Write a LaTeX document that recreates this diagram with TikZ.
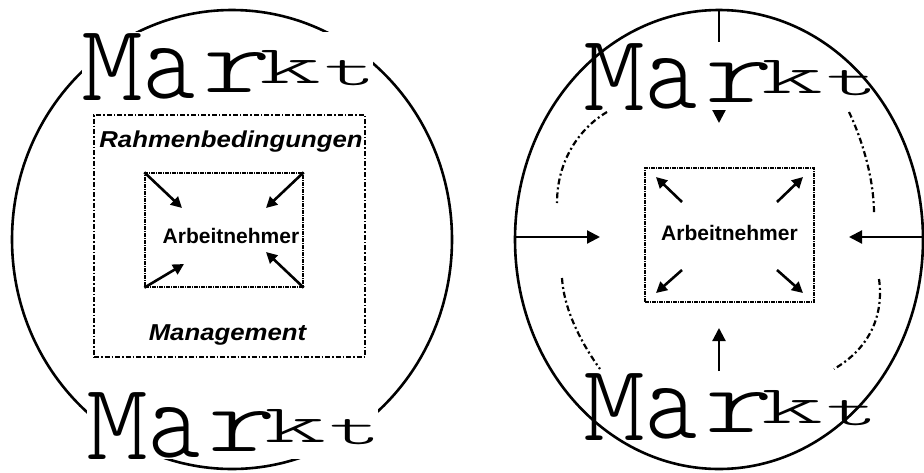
\documentclass[tikz,border=0pt]{standalone}
\usepackage{fontspec}
\setmainfont{Liberation Sans}
\newfontfamily\mkfont{lmmonolt10-regular.otf}
\usepackage{graphicx}
\usetikzlibrary{arrows.meta,shapes.geometric}
\tikzset{
  ell/.style={draw, ellipse, line width=2.6pt, inner sep=0pt},
  outerbox/.style={draw, line width=1.5pt, dash pattern=on 5pt off 2pt on 1.5pt off 2pt, inner sep=0pt},
  innerbox/.style={draw, line width=1.3pt, dash pattern=on 4pt off 1pt on 1pt off 1pt, inner sep=0pt},
  arr/.style={line width=2.6pt, -{Triangle[length=11pt,width=11pt]}},
  bigarr/.style={line width=2.2pt, -{Triangle[length=13pt,width=13pt]}},
  dasharc/.style={line width=2.2pt, dash pattern=on 6pt off 3pt on 2pt off 3pt},
  lbl/.style={font=\bfseries\itshape\fontsize{23}{23}\selectfont, inner sep=0pt, anchor=base},
  anlbl/.style={font=\bfseries\fontsize{21}{21}\selectfont, inner sep=0pt, anchor=base},
  letter/.style={inner sep=0pt, anchor=north west},
  wbg/.style={fill=white, inner sep=0pt, anchor=north west, minimum width=291pt, minimum height=68pt}
}
\newcommand\marktword[3]{%
  \begin{scope}[shift={(#1,#2)}]
    \node[wbg] (#3bg) at (-1,-1) {};
    \node[letter] (#3M) at (-1.5,0) {\resizebox{62pt}{67pt}{\mkfont M}};
    \node[letter] (#3a) at (60.5,15) {\resizebox{52pt}{50pt}{\mkfont a}};
    \node[letter] (#3r) at (120,19) {\resizebox{68pt}{40pt}{\mkfont r}};
    \node[letter] (#3k) at (176,17) {\resizebox{62pt}{33pt}{\mkfont k}};
    \node[letter] (#3t) at (241,27) {\resizebox{52pt}{25pt}{\mkfont t}};
  \end{scope}}
\begin{document}
\begin{tikzpicture}[x=1pt,y=-1pt]
\useasboundingbox (0,0) rectangle (924,472);
% ---------------- left diagram ----------------
\node[ell, minimum width=440pt, minimum height=459pt] (ellL) at (232,239.5) {};
\marktword{83}{33}{tl}
\marktword{88}{392}{bl}
\node[outerbox, minimum width=271pt, minimum height=242pt] (obL) at (229.5,236) {};
\node[lbl] (rb) at (231,147) {\scalebox{1.12}[1]{Rahmenbedingungen}};
\node[lbl] (mg) at (227.5,340) {\scalebox{1.12}[1]{Management}};
\node[innerbox, minimum width=158pt, minimum height=114pt] (ibL) at (224,230) {};
\node[anlbl] (anL) at (231,243) {Arbeitnehmer};
\coordinate (lA) at (182,208);
\coordinate (lB) at (266,208);
\coordinate (lC) at (184,264);
\coordinate (lD) at (266,252);
\draw[arr] (ibL.north west) -- (lA);
\draw[arr] (ibL.north east) -- (lB);
\draw[arr] (ibL.south west) -- (lC);
\draw[arr] (ibL.south east) -- (lD);
% ---------------- right diagram ----------------
\node[innerbox, minimum width=169pt, minimum height=134pt] (ibR) at (729.5,235) {};
\node[anlbl] (anR) at (729.5,240) {Arbeitnehmer};
\coordinate (r1s) at (682,202); \coordinate (r1e) at (656,177);
\coordinate (r2s) at (777,202); \coordinate (r2e) at (803,177);
\coordinate (r3s) at (682,270); \coordinate (r3e) at (656,293);
\coordinate (r4s) at (777,270); \coordinate (r4e) at (803,293);
\draw[arr] (r1s) -- (r1e);
\draw[arr] (r2s) -- (r2e);
\draw[arr] (r3s) -- (r3e);
\draw[arr] (r4s) -- (r4e);
\coordinate (tS) at (719,10);   \coordinate (tE) at (719,123);
\coordinate (lS) at (515,237);  \coordinate (lE) at (600,237);
\coordinate (rS) at (923,237);  \coordinate (rE) at (849,237);
\coordinate (bS) at (719,371);  \coordinate (bE) at (719,328);
\draw[bigarr] (tS) -- (tE);
\draw[bigarr] (lS) -- (lE);
\draw[bigarr] (rS) -- (rE);
\draw[bigarr] (bS) -- (bE);
\draw[dasharc] (607,112) .. controls (580,128) and (557,160) .. (557,203);
\draw[dasharc] (849,112) .. controls (860,135) and (874,175) .. (874,214);
\draw[dasharc] (562,278) .. controls (564,312) and (584,347) .. (600,369);
\draw[dasharc] (879,279) .. controls (884,315) and (870,348) .. (834,369);
\marktword{585}{43}{tr}
\marktword{585}{373}{br}
\node[ell, minimum width=408pt, minimum height=459pt] (ellR) at (719,239.5) {};
\end{tikzpicture}
\end{document}
